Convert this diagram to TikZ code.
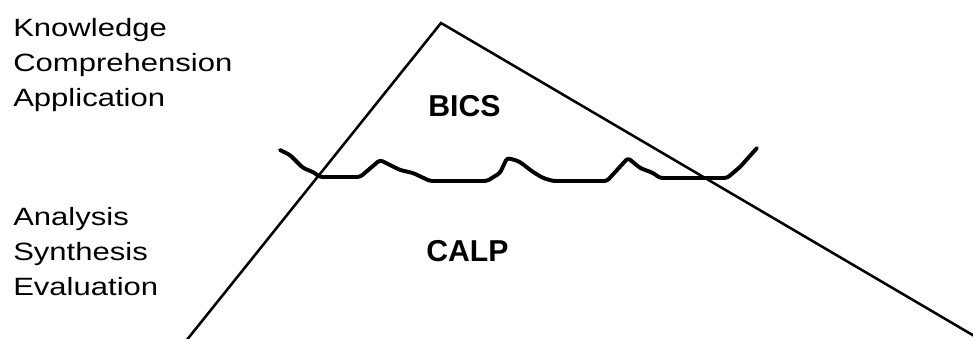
\documentclass[tikz,border=0pt]{standalone}
\usepackage{fontspec}
\setmainfont{Liberation Sans}
\newfontfamily\widefont[FakeStretch=1.24]{Liberation Sans}
\usetikzlibrary{calc}

\tikzset{
    skill/.style={anchor=base west, inner sep=0pt, font=\widefont\fontsize{17.8pt}{20pt}\selectfont},
    register/.style={anchor=base west, inner sep=0pt, font=\fontsize{21.5pt}{24pt}\selectfont\bfseries},
    waterline/.style={line width=2.8pt, line join=round, line cap=round, rounded corners=2pt}
}

\begin{document}
\begin{tikzpicture}[x=0.025cm, y=-0.025cm, line width=1.8pt]
        \useasboundingbox (0,0) rectangle (973,339);

        % ==========================================
        % 1. Iceberg outline
        % ==========================================
        \coordinate (apex) at (441,23);
        \coordinate (leftfoot) at (186,341);
        \coordinate (rightfoot) at (976,337);
        \draw[line join=miter] (leftfoot) -- (apex) -- (rightfoot);

        % ==========================================
        % 2. Surface line
        % ==========================================
        \draw[waterline] (280,150) -- (290,155) -- (303,168) -- (313,172) -- (320,177)
            -- (360,177) -- (380,160) -- (400,170) -- (413,173) -- (430,181)
            -- (487,181) -- (500,173) -- (507,158) -- (515,160) -- (520,162)
            -- (533,172) -- (543,178) -- (553,181) -- (607,181) -- (617,170)
            -- (628,158) -- (640,168) -- (653,173) -- (660,178) -- (727,178)
            -- (740,167) -- (757,148);

        % ==========================================
        % 3. Labels
        % ==========================================
        \node[register] (bics) at (427,117) {BICS};
        \node[register] (calp) at (425,262) {CALP};

        \node[skill] (knowledge) at (12,37) {Knowledge};
        \node[skill] (comprehension) at (12,72) {Comprehension};
        \node[skill] (application) at (12,107) {Application};
        \node[skill] (analysis) at (12,226) {Analysis};
        \node[skill] (synthesis) at (12,261) {Synthesis};
        \node[skill] (evaluation) at (12,296) {Evaluation};

    \end{tikzpicture}
\end{document}
